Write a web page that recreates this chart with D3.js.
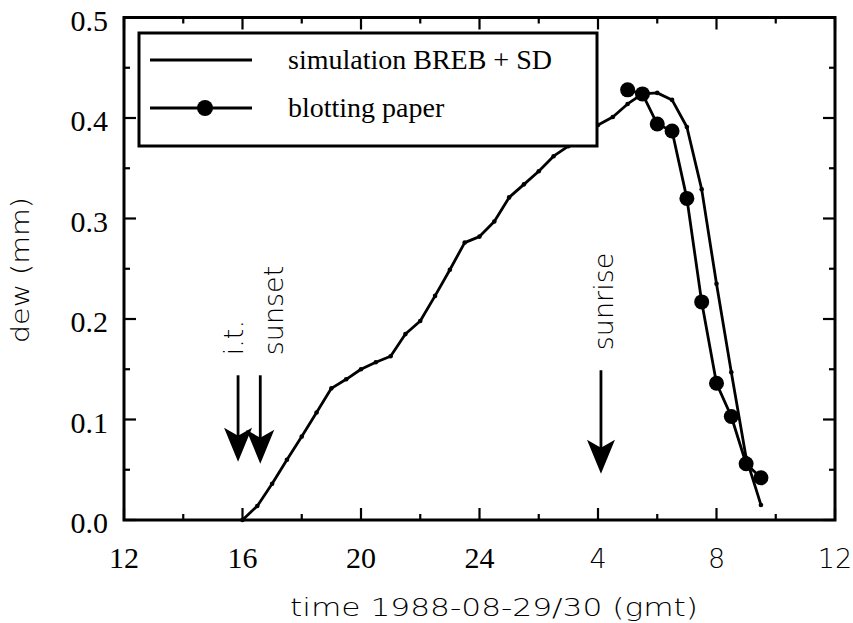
<!DOCTYPE html>
<html>
<head>
<meta charset="utf-8">
<script src="https://cdn.jsdelivr.net/npm/d3@7"></script>
<style>
  body { margin: 0; background: #fff; }
  text { fill: #000; }
</style>
</head>
<body>
<div id="chart"></div>
<script>
// simulated dew (BREB + SD), hours since 00:00 on 08-29
const simTime = [16, 16.5, 17, 17.5, 18, 18.5, 19, 19.5, 20, 20.5, 21, 21.5,
                 22, 22.5, 23, 23.5, 24, 24.5, 25, 25.5, 26, 26.5, 27, 27.5,
                 28, 28.5, 29, 29.5, 30, 30.5, 31, 31.5, 32, 32.5, 33, 33.5];
const simDew = [0.000, 0.014, 0.036, 0.060, 0.083, 0.107, 0.131, 0.140, 0.150, 0.157, 0.163, 0.185,
                0.198, 0.223, 0.249, 0.276, 0.282, 0.297, 0.321, 0.334, 0.347, 0.362, 0.372, 0.383,
                0.393, 0.401, 0.414, 0.424, 0.425, 0.418, 0.391, 0.329, 0.235, 0.147, 0.062, 0.015];

// blotting paper measurements
const paperTime = [29, 29.5, 30, 30.5, 31, 31.5, 32, 32.5, 33, 33.5];
const paperDew = [0.428, 0.424, 0.394, 0.387, 0.320, 0.217, 0.136, 0.103, 0.056, 0.042];

const xTicks = [12, 16, 20, 24, 28, 32, 36];
const xTickLabels = ["12", "16", "20", "24", "4", "8", "12"];
const xMinor = [14, 18, 22, 26, 30, 34];
const yTicks = [0, 0.1, 0.2, 0.3, 0.4, 0.5];
const yTickLabels = ["0.0", "0.1", "0.2", "0.3", "0.4", "0.5"];
const yMinor = [0.05, 0.15, 0.25, 0.35, 0.45];

const eventLabels = ["i.t.", "sunset", "sunrise"];
const eventTime = [15.85, 16.6, 28.1];

const W = 853, H = 623;
const margin = {top: 17.5, right: 18, bottom: 103, left: 124};

const svg = d3.select("#chart").append("svg")
    .attr("width", W)
    .attr("height", H);

const x = d3.scaleLinear().domain([12, 36]).range([margin.left, W - margin.right]);
const y = d3.scaleLinear().domain([0, 0.5]).range([H - margin.bottom, margin.top]);

const serif = "'Liberation Serif', 'Times New Roman', serif";
const sans = "'DejaVu Sans', sans-serif";

// ticks (inward on all four sides)
const g = svg.append("g").attr("stroke", "#000").attr("stroke-width", 2.2);
const majLen = 12, minLen = 6;
[[xTicks, majLen], [xMinor, minLen]].forEach(([vals, len]) => {
  vals.forEach(v => {
    g.append("line").attr("x1", x(v)).attr("x2", x(v)).attr("y1", y(0)).attr("y2", y(0) - len);
    g.append("line").attr("x1", x(v)).attr("x2", x(v)).attr("y1", y(0.5)).attr("y2", y(0.5) + len);
  });
});
[[yTicks, majLen], [yMinor, minLen]].forEach(([vals, len]) => {
  vals.forEach(v => {
    g.append("line").attr("x1", x(12)).attr("x2", x(12) + len).attr("y1", y(v)).attr("y2", y(v));
    g.append("line").attr("x1", x(36)).attr("x2", x(36) - len).attr("y1", y(v)).attr("y2", y(v));
  });
});

// tick labels
svg.selectAll(".xlab").data(xTicks).enter().append("text")
    .attr("x", d => x(d))
    .attr("y", y(0) + 48)
    .attr("text-anchor", "middle")
    .style("font-family", d => d >= 28 ? sans : serif)
    .style("font-weight", d => d >= 28 ? 200 : 400)
    .style("font-size", d => d >= 28 ? "27px" : "30px")
    .text((d, i) => xTickLabels[i]);

svg.selectAll(".ylab").data(yTicks).enter().append("text")
    .attr("x", x(12) - 16)
    .attr("y", d => y(d) + 13)
    .attr("text-anchor", "end")
    .style("font-family", serif)
    .style("font-size", "30px")
    .text((d, i) => yTickLabels[i]);

// axis titles
svg.append("text")
    .attr("x", 290).attr("y", 616)
    .attr("textLength", 408).attr("lengthAdjust", "spacingAndGlyphs")
    .style("font-family", sans).style("font-weight", 200).style("font-size", "25px")
    .text("time 1988-08-29/30 (gmt)");

svg.append("text")
    .attr("transform", "translate(29,343) rotate(-90)")
    .attr("textLength", 146).attr("lengthAdjust", "spacingAndGlyphs")
    .style("font-family", sans).style("font-weight", 200).style("font-size", "25px")
    .text("dew (mm)");

// simulation line with small markers
const line = d3.line().x(d => x(d[0])).y(d => y(d[1]));
const simPts = simTime.map((t, i) => [t, simDew[i]]);
const paperPts = paperTime.map((t, i) => [t, paperDew[i]]);

svg.append("path").datum(simPts)
    .attr("d", line).attr("fill", "none")
    .attr("stroke", "#000").attr("stroke-width", 2.8).attr("stroke-linejoin", "round");
svg.selectAll(".simdot").data(simPts).enter().append("circle")
    .attr("cx", d => x(d[0])).attr("cy", d => y(d[1])).attr("r", 2.3).attr("fill", "#000");

svg.append("path").datum(paperPts)
    .attr("d", line).attr("fill", "none")
    .attr("stroke", "#000").attr("stroke-width", 2.8).attr("stroke-linejoin", "round");
svg.selectAll(".pdot").data(paperPts).enter().append("circle")
    .attr("cx", d => x(d[0])).attr("cy", d => y(d[1])).attr("r", 7.5).attr("fill", "#000");

// event arrows
const arrowTop = [0.144, 0.144, 0.149];
const arrowTip = [0.058, 0.056, 0.046];
const labelShift = [5, 23, 12];
eventLabels.forEach((lab, i) => {
  const ax = x(eventTime[i]);
  svg.append("line")
      .attr("x1", ax).attr("x2", ax)
      .attr("y1", y(arrowTop[i])).attr("y2", y(arrowTip[i]) - 20)
      .attr("stroke", "#000").attr("stroke-width", 2.8);
  svg.append("path")
      .attr("transform", `translate(${ax},${y(arrowTip[i])})`)
      .attr("d", "M0,0 L-14,-34 L0,-26 L14,-34 Z")
      .attr("fill", "#000");
  svg.append("text")
      .attr("transform", `translate(${ax + labelShift[i]},${y(arrowTop[i]) - 20}) rotate(-90)`)
      .style("font-family", sans).style("font-weight", 200).style("font-size", "27px")
      .text(lab);
});

// frame
svg.append("rect")
    .attr("x", x(12)).attr("y", y(0.5))
    .attr("width", x(36) - x(12)).attr("height", y(0) - y(0.5))
    .attr("fill", "none").attr("stroke", "#000").attr("stroke-width", 3);

// legend
const leg = svg.append("g");
leg.append("rect")
    .attr("x", 139).attr("y", 33).attr("width", 458).attr("height", 113)
    .attr("fill", "#fff").attr("stroke", "#000").attr("stroke-width", 3);
const legLabels = ["simulation BREB + SD", "blotting paper"];
legLabels.forEach((lab, i) => {
  const ly = 60 + i * 48;
  leg.append("line").attr("x1", 150).attr("x2", 252).attr("y1", ly).attr("y2", ly)
      .attr("stroke", "#000").attr("stroke-width", 2.8);
  if (i === 1) leg.append("circle").attr("cx", 205).attr("cy", ly).attr("r", 8).attr("fill", "#000");
  leg.append("text").attr("x", 288).attr("y", ly + 9)
      .style("font-family", serif).style("font-size", "28px")
      .text(lab);
});
</script>
</body>
</html>
